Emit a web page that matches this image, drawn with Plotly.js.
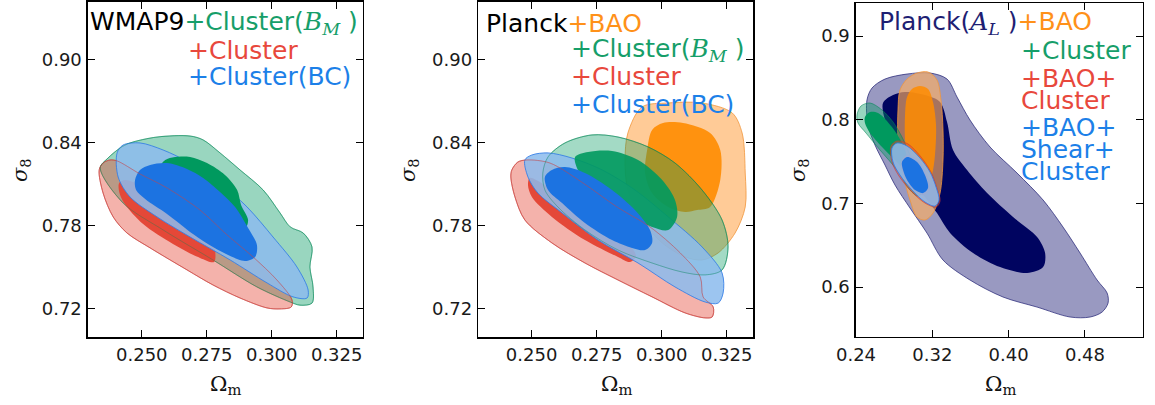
<!DOCTYPE html>
<html><head><meta charset="utf-8">
<script src="https://cdn.plot.ly/plotly-3.0.1.min.js"></script>
<style>html,body{margin:0;padding:0;background:#fff;}#chart{width:1155px;height:405px;}</style>
</head><body><div id="chart"></div>
<script>
// ---------------- DATA (Omega_m, sigma_8) contour vertices ----------------
// Panel 1: WMAP9
const p1GreenOuter = [[0.2340,0.8214],[0.2370,0.8286],[0.2417,0.8359],[0.2455,0.8395],[0.2559,0.8438],[0.2686,0.8445],[0.2736,0.8417],[0.2801,0.8323],[0.2878,0.8200],[0.2967,0.8055],[0.3032,0.7889],[0.3071,0.7788],[0.3121,0.7744],[0.3155,0.7643],[0.3147,0.7498],[0.3159,0.7354],[0.3155,0.7237],[0.3109,0.7222],[0.3071,0.7245],[0.2943,0.7354],[0.2774,0.7549],[0.2582,0.7766],[0.2428,0.7961]];
const p1GreenInner = [[0.2570,0.8214],[0.2590,0.8272],[0.2628,0.8294],[0.2686,0.8294],[0.2751,0.8250],[0.2820,0.8164],[0.2867,0.8055],[0.2882,0.7947],[0.2909,0.7838],[0.2898,0.7780],[0.2840,0.7824],[0.2763,0.7932],[0.2686,0.8041],[0.2617,0.8127]];
const p1RedOuter = [[0.2336,0.8200],[0.2351,0.8250],[0.2378,0.8272],[0.2405,0.8265],[0.2493,0.8171],[0.2597,0.8070],[0.2724,0.7910],[0.2828,0.7730],[0.2928,0.7571],[0.3020,0.7404],[0.3078,0.7260],[0.3075,0.7209],[0.3032,0.7195],[0.2982,0.7202],[0.2878,0.7274],[0.2774,0.7368],[0.2674,0.7477],[0.2532,0.7636],[0.2443,0.7744],[0.2390,0.7860],[0.2351,0.8033]];
const p1RedInner = [[0.2413,0.8106],[0.2436,0.8127],[0.2493,0.8091],[0.2590,0.7983],[0.2686,0.7852],[0.2763,0.7730],[0.2782,0.7621],[0.2778,0.7535],[0.2724,0.7564],[0.2620,0.7665],[0.2505,0.7809],[0.2432,0.7961],[0.2413,0.8041]];
const p1BlueOuter = [[0.2405,0.8323],[0.2428,0.8380],[0.2493,0.8395],[0.2582,0.8344],[0.2686,0.8250],[0.2801,0.8106],[0.2905,0.7932],[0.3005,0.7715],[0.3097,0.7498],[0.3140,0.7332],[0.3136,0.7274],[0.3082,0.7282],[0.2982,0.7383],[0.2840,0.7549],[0.2686,0.7715],[0.2559,0.7860],[0.2455,0.8004],[0.2409,0.8149]];
const p1BlueInner = [[0.2474,0.8127],[0.2493,0.8200],[0.2532,0.8236],[0.2597,0.8250],[0.2674,0.8207],[0.2736,0.8142],[0.2801,0.8041],[0.2859,0.7932],[0.2909,0.7780],[0.2943,0.7657],[0.2936,0.7571],[0.2898,0.7542],[0.2840,0.7578],[0.2774,0.7643],[0.2697,0.7737],[0.2597,0.7882],[0.2513,0.7990],[0.2478,0.8055]];

// Panel 2: Planck
const p2OrangeOuter = [[0.2924,0.8655],[0.3025,0.8684],[0.3155,0.8684],[0.3271,0.8612],[0.3309,0.8467],[0.3321,0.8178],[0.3321,0.7932],[0.3282,0.7744],[0.3217,0.7600],[0.3155,0.7549],[0.3090,0.7571],[0.3002,0.7672],[0.2924,0.7838],[0.2870,0.8055],[0.2859,0.8272],[0.2870,0.8467]];
const p2OrangeInner = [[0.2963,0.8489],[0.3005,0.8539],[0.3082,0.8539],[0.3186,0.8467],[0.3225,0.8344],[0.3225,0.8127],[0.3186,0.7932],[0.3136,0.7910],[0.3090,0.7896],[0.3025,0.7932],[0.2963,0.8033],[0.2936,0.8178],[0.2944,0.8344]];
const p2GreenOuter = [[0.2543,0.8178],[0.2563,0.8294],[0.2628,0.8395],[0.2732,0.8453],[0.2832,0.8438],[0.2948,0.8366],[0.3051,0.8250],[0.3155,0.8055],[0.3232,0.7838],[0.3255,0.7643],[0.3232,0.7477],[0.3167,0.7441],[0.3078,0.7462],[0.2963,0.7527],[0.2832,0.7621],[0.2705,0.7766],[0.2601,0.7932],[0.2551,0.8055]];
const p2GreenInner = [[0.2667,0.8294],[0.2717,0.8330],[0.2809,0.8337],[0.2909,0.8272],[0.3002,0.8127],[0.3051,0.7983],[0.3059,0.7860],[0.3025,0.7766],[0.2963,0.7788],[0.2886,0.7860],[0.2809,0.7961],[0.2732,0.8077],[0.2678,0.8200]];
const p2RedOuter = [[0.2424,0.8200],[0.2447,0.8257],[0.2482,0.8272],[0.2570,0.8250],[0.2697,0.8106],[0.2828,0.7932],[0.2955,0.7788],[0.3071,0.7600],[0.3148,0.7426],[0.3159,0.7282],[0.3198,0.7209],[0.3194,0.7137],[0.3167,0.7130],[0.3090,0.7166],[0.2963,0.7282],[0.2832,0.7404],[0.2705,0.7527],[0.2578,0.7672],[0.2474,0.7838],[0.2436,0.8004],[0.2420,0.8149]];
const p2RedInner = [[0.2493,0.8142],[0.2486,0.8091],[0.2501,0.8004],[0.2578,0.7860],[0.2705,0.7693],[0.2832,0.7571],[0.2878,0.7535],[0.2901,0.7578],[0.2859,0.7693],[0.2763,0.7838],[0.2647,0.7983],[0.2551,0.8091]];
const p2BlueOuter = [[0.2474,0.8272],[0.2501,0.8308],[0.2563,0.8323],[0.2655,0.8286],[0.2771,0.8200],[0.2897,0.8055],[0.3025,0.7860],[0.3155,0.7643],[0.3232,0.7455],[0.3236,0.7310],[0.3217,0.7237],[0.3167,0.7245],[0.3051,0.7354],[0.2909,0.7527],[0.2755,0.7693],[0.2617,0.7889],[0.2524,0.8033],[0.2486,0.8149]];
const p2BlueInner = [[0.2551,0.8149],[0.2578,0.8200],[0.2628,0.8221],[0.2705,0.8178],[0.2809,0.8055],[0.2897,0.7910],[0.2955,0.7766],[0.2963,0.7672],[0.2936,0.7621],[0.2886,0.7636],[0.2809,0.7693],[0.2705,0.7816],[0.2617,0.7961],[0.2563,0.8055]];

// Panel 3: Planck(A_L)
const p3NavyOuter = [[0.2515,0.8235],[0.2568,0.8379],[0.2704,0.8486],[0.2935,0.8546],[0.3176,0.8558],[0.3354,0.8486],[0.3459,0.8271],[0.3595,0.7996],[0.3805,0.7674],[0.4088,0.7363],[0.4361,0.7041],[0.4570,0.6718],[0.4749,0.6407],[0.4927,0.6085],[0.5032,0.5930],[0.5042,0.5810],[0.4980,0.5703],[0.4854,0.5643],[0.4644,0.5643],[0.4298,0.5762],[0.3941,0.5882],[0.3595,0.6085],[0.3312,0.6324],[0.3144,0.6646],[0.2966,0.6945],[0.2809,0.7220],[0.2704,0.7459],[0.2599,0.7698],[0.2526,0.7937]];
const p3NavyInner = [[0.2683,0.8200],[0.2788,0.8295],[0.2914,0.8331],[0.3123,0.8295],[0.3281,0.8212],[0.3354,0.7973],[0.3417,0.7638],[0.3564,0.7399],[0.3774,0.7124],[0.4046,0.6838],[0.4298,0.6599],[0.4382,0.6407],[0.4361,0.6240],[0.4193,0.6169],[0.3910,0.6240],[0.3627,0.6407],[0.3386,0.6646],[0.3249,0.6885],[0.3071,0.7160],[0.2914,0.7459],[0.2788,0.7757],[0.2704,0.7996]];
const p3OrangeOuter = [[0.2861,0.8355],[0.2935,0.8486],[0.3040,0.8558],[0.3155,0.8570],[0.3249,0.8474],[0.3291,0.8235],[0.3312,0.7877],[0.3312,0.7519],[0.3281,0.7124],[0.3207,0.6885],[0.3123,0.6802],[0.3040,0.6838],[0.2966,0.7041],[0.2882,0.7399],[0.2840,0.7757],[0.2840,0.8116]];
const p3OrangeInner = [[0.2935,0.8271],[0.2987,0.8367],[0.3071,0.8403],[0.3155,0.8367],[0.3207,0.8212],[0.3239,0.7937],[0.3228,0.7578],[0.3197,0.7339],[0.3144,0.7160],[0.3071,0.7100],[0.2998,0.7160],[0.2945,0.7399],[0.2914,0.7757],[0.2914,0.8056]];
const p3GreenOuter = [[0.2410,0.8056],[0.2452,0.8164],[0.2547,0.8200],[0.2673,0.8116],[0.2788,0.7973],[0.2882,0.7793],[0.2966,0.7578],[0.3040,0.7339],[0.3092,0.7136],[0.3050,0.7088],[0.2966,0.7160],[0.2830,0.7399],[0.2652,0.7638],[0.2505,0.7841],[0.2421,0.7961]];
const p3GreenInner = [[0.2494,0.8032],[0.2547,0.8092],[0.2631,0.8080],[0.2777,0.7913],[0.2882,0.7722],[0.2945,0.7519],[0.2966,0.7399],[0.2914,0.7399],[0.2809,0.7519],[0.2673,0.7674],[0.2547,0.7841],[0.2494,0.7961]];
const p3RedOuter = [[0.2767,0.7686],[0.2830,0.7746],[0.2945,0.7710],[0.3082,0.7554],[0.3186,0.7375],[0.3249,0.7184],[0.3281,0.7029],[0.3239,0.6957],[0.3123,0.7005],[0.2977,0.7148],[0.2851,0.7327],[0.2777,0.7495]];
const p3RedInner = [[0.2872,0.7495],[0.2935,0.7578],[0.3050,0.7519],[0.3144,0.7339],[0.3176,0.7172],[0.3113,0.7100],[0.3008,0.7148],[0.2924,0.7268],[0.2882,0.7387]];
const p3BlueOuter = [[0.2777,0.7662],[0.2830,0.7722],[0.2935,0.7686],[0.3071,0.7542],[0.3176,0.7375],[0.3239,0.7196],[0.3270,0.7041],[0.3228,0.6969],[0.3123,0.7017],[0.2987,0.7160],[0.2861,0.7339],[0.2788,0.7495]];
const p3BlueInner = [[0.2882,0.7495],[0.2935,0.7554],[0.3040,0.7495],[0.3123,0.7339],[0.3155,0.7184],[0.3103,0.7124],[0.3019,0.7160],[0.2935,0.7280],[0.2893,0.7399]];

// Tick values and labels
const ticksXab = [0.250, 0.275, 0.300, 0.325];
const tickTextXab = ['0.250', '0.275', '0.300', '0.325'];
const ticksYab = [0.72, 0.78, 0.84, 0.90];
const tickTextYab = ['0.72', '0.78', '0.84', '0.90'];
const ticksXc = [0.24, 0.32, 0.40, 0.48];
const tickTextXc = ['0.24', '0.32', '0.40', '0.48'];
const ticksYc = [0.6, 0.7, 0.8, 0.9];
const tickTextYc = ['0.6', '0.7', '0.8', '0.9'];

// Legend texts
const BM = "<span style=\"font-family:DejaVu Serif\"><i>B</i><sub><i>M</i></sub></span>";
const AL = "<span style=\"font-family:DejaVu Serif\"><i>A</i><sub><i>L</i></sub></span>";

// ---------------- STYLE ----------------
const W = 1155, H = 405;
const C = {
  green: 'rgb(0,153,94)', greenOut: 'rgba(0,153,94,0.40)', greenLine: 'rgba(0,135,85,0.55)',
  red: 'rgb(228,72,56)', redOut: 'rgba(228,72,56,0.42)', redLine: 'rgba(205,60,50,0.6)',
  blue: 'rgb(28,115,225)', blueOut: 'rgba(140,188,238,0.86)', blueLine: 'rgba(50,125,230,0.85)',
  orange: 'rgba(255,140,0,0.9)', orangeOut: 'rgba(255,175,95,0.65)', orangeLine: 'rgba(240,150,60,0.8)',
  navy: 'rgb(0,4,96)', navyOut: 'rgba(0,0,100,0.40)', navyLine: 'rgba(40,40,120,0.75)',
  tGreen: 'rgb(22,158,105)', tRed: 'rgb(232,72,60)', tBlue: 'rgb(28,128,232)', tOrange: 'rgb(255,145,25)', tNavy: 'rgb(30,30,115)'
};

function poly(pts, ax, fill, lineColor, lw) {
  const xs = pts.map(p => p[0]).concat([pts[0][0]]);
  const ys = pts.map(p => p[1]).concat([pts[0][1]]);
  return {
    type: 'scatter', mode: 'lines', x: xs, y: ys, xaxis: 'x' + ax, yaxis: 'y' + ax,
    fill: 'toself', fillcolor: fill,
    line: {color: lineColor || 'rgba(0,0,0,0)', width: lw || 0, shape: 'spline', smoothing: 0.9},
    hoverinfo: 'skip'
  };
}
function outline(pts, ax, lineColor, lw) {
  const xs = pts.map(p => p[0]).concat([pts[0][0]]);
  const ys = pts.map(p => p[1]).concat([pts[0][1]]);
  return {type: 'scatter', mode: 'lines', x: xs, y: ys, xaxis: 'x' + ax, yaxis: 'y' + ax,
    line: {color: lineColor, width: lw, shape: 'spline', smoothing: 0.9}, hoverinfo: 'skip'};
}

const traces = [
  // panel 1
  poly(p1GreenOuter, '', C.greenOut, C.greenLine, 1),
  poly(p1RedOuter, '', C.redOut, C.redLine, 1),
  poly(p1RedInner, '', C.red),
  poly(p1BlueOuter, '', C.blueOut, C.blueLine, 1),
  poly(p1GreenInner, '', C.green),
  poly(p1BlueInner, '', C.blue),
  outline(p1RedOuter, '', 'rgba(200,70,70,0.55)', 1),
  outline(p1GreenOuter, '', 'rgba(0,135,85,0.35)', 1),
  // panel 2
  poly(p2OrangeOuter, '2', C.orangeOut, C.orangeLine, 1),
  poly(p2OrangeInner, '2', C.orange),
  poly(p2GreenOuter, '2', 'rgba(0,153,94,0.36)', C.greenLine, 1),
  poly(p2RedOuter, '2', C.redOut, C.redLine, 1),
  poly(p2RedInner, '2', C.red),
  poly(p2BlueOuter, '2', C.blueOut, C.blueLine, 1),
  poly(p2GreenInner, '2', 'rgba(0,153,94,0.9)'),
  poly(p2BlueInner, '2', C.blue),
  outline(p2RedOuter, '2', 'rgba(200,70,70,0.55)', 1),
  outline(p2GreenOuter, '2', 'rgba(0,135,85,0.4)', 1),
  // panel 3
  poly(p3NavyOuter, '3', C.navyOut, C.navyLine, 1),
  poly(p3NavyInner, '3', C.navy),
  poly(p3OrangeOuter, '3', C.orangeOut, C.orangeLine, 1),
  poly(p3OrangeInner, '3', 'rgba(255,140,0,0.85)'),
  poly(p3GreenOuter, '3', C.greenOut, C.greenLine, 1),
  poly(p3GreenInner, '3', C.green),
  poly(p3RedOuter, '3', C.redOut, C.redLine, 1),
  poly(p3RedInner, '3', C.red),
  poly(p3BlueOuter, '3', C.blueOut, C.blueLine, 1),
  poly(p3BlueInner, '3', C.blue)
];

function xax(dom, range, vals, text, anchor) {
  return {domain: [dom[0] / W, dom[1] / W], range: range, anchor: anchor,
    tickmode: 'array', tickvals: vals, ticktext: text,
    ticks: 'inside', ticklen: 7, tickwidth: 1, tickcolor: '#000',
    showline: true, linewidth: 1.6, linecolor: '#000', mirror: 'ticks',
    showgrid: false, zeroline: false, ticklabelstandoff: 1,
    tickfont: {family: 'DejaVu Sans', size: 18, color: '#1a1a1a'}};
}
function yax(dom, range, vals, text, anchor) {
  return {domain: [1 - dom[1] / H, 1 - dom[0] / H], range: range, anchor: anchor,
    tickmode: 'array', tickvals: vals, ticktext: text,
    ticks: 'inside', ticklen: 7, tickwidth: 1, tickcolor: '#000',
    showline: true, linewidth: 1.6, linecolor: '#000', mirror: 'ticks',
    showgrid: false, zeroline: false, ticklabelstandoff: 1,
    tickfont: {family: 'DejaVu Sans', size: 18, color: '#1a1a1a'}};
}

function ann(text, px, py, color, opts) {
  return Object.assign({xref: 'paper', yref: 'paper', x: px / W, y: 1 - py / H, text: text,
    showarrow: false, xanchor: 'left', yanchor: 'middle',
    font: {family: 'DejaVu Sans', size: 25, color: color}}, opts || {});
}
const serif = {family: 'DejaVu Serif', size: 21, color: '#111'};
const annotations = [
  // panel 1 legend
  ann('WMAP9<span style="color:' + C.tGreen + '">+Cluster(' + BM + ' )</span>', 88, 23, '#000'),
  ann('+Cluster', 186, 50, C.tRed),
  ann('+Cluster(BC)', 186, 77, C.tBlue),
  // panel 2 legend
  ann('Planck<span style="color:' + C.tOrange + '">+BAO</span>', 484, 23, '#000'),
  ann('+Cluster(' + BM + ' )', 569, 50, C.tGreen),
  ann('+Cluster', 569, 77, C.tRed),
  ann('+Cluster(BC)', 569, 104, C.tBlue),
  // panel 3 legend
  ann('Planck(' + AL + ' )<span style="color:' + C.tOrange + '">+BAO</span>', 877, 23, C.tNavy),
  ann('+Cluster', 1019, 50, C.tGreen),
  ann('+BAO+', 1019, 78, C.tRed, {height: 24}),
  ann('Cluster', 1019, 100, C.tRed, {height: 24}),
  ann('+BAO+', 1019, 127, C.tBlue, {height: 24}),
  ann('Shear+', 1019, 149, C.tBlue, {height: 24}),
  ann('Cluster', 1019, 171, C.tBlue, {height: 24}),
  // axis titles
  ann('Ω<sub>m</sub>', 225, 385, '#111', {xanchor: 'center', font: serif}),
  ann('Ω<sub>m</sub>', 616, 385, '#111', {xanchor: 'center', font: serif}),
  ann('Ω<sub>m</sub>', 1000, 385, '#111', {xanchor: 'center', font: serif}),
  ann('<i>σ</i><sub>8</sub>', 21, 170, '#111', {xanchor: 'center', textangle: -90, font: serif}),
  ann('<i>σ</i><sub>8</sub>', 409, 170, '#111', {xanchor: 'center', textangle: -90, font: serif}),
  ann('<i>σ</i><sub>8</sub>', 799, 170, '#111', {xanchor: 'center', textangle: -90, font: serif})
];

const layout = {
  width: W, height: H, margin: {l: 0, r: 0, t: 0, b: 0},
  paper_bgcolor: '#fff', plot_bgcolor: '#fff', showlegend: false,
  xaxis: xax([88, 362.7], [0.2293, 0.3350], ticksXab, tickTextXab, 'y'),
  yaxis: yax([2, 337], [0.6992, 0.9414], ticksYab, tickTextYab, 'x'),
  xaxis2: xax([478.3, 753.3], [0.2295, 0.3352], ticksXab, tickTextXab, 'y2'),
  yaxis2: yax([2, 337], [0.6992, 0.9414], ticksYab, tickTextYab, 'x2'),
  xaxis3: xax([856, 1142.7], [0.2400, 0.5405], ticksXc, tickTextXc, 'y3'),
  yaxis3: yax([3.3, 336.7], [0.5408, 0.9391], ticksYc, tickTextYc, 'x3'),
  annotations: annotations
};

Plotly.newPlot('chart', traces, layout, {displayModeBar: false, staticPlot: true});
</script>
</body></html>
